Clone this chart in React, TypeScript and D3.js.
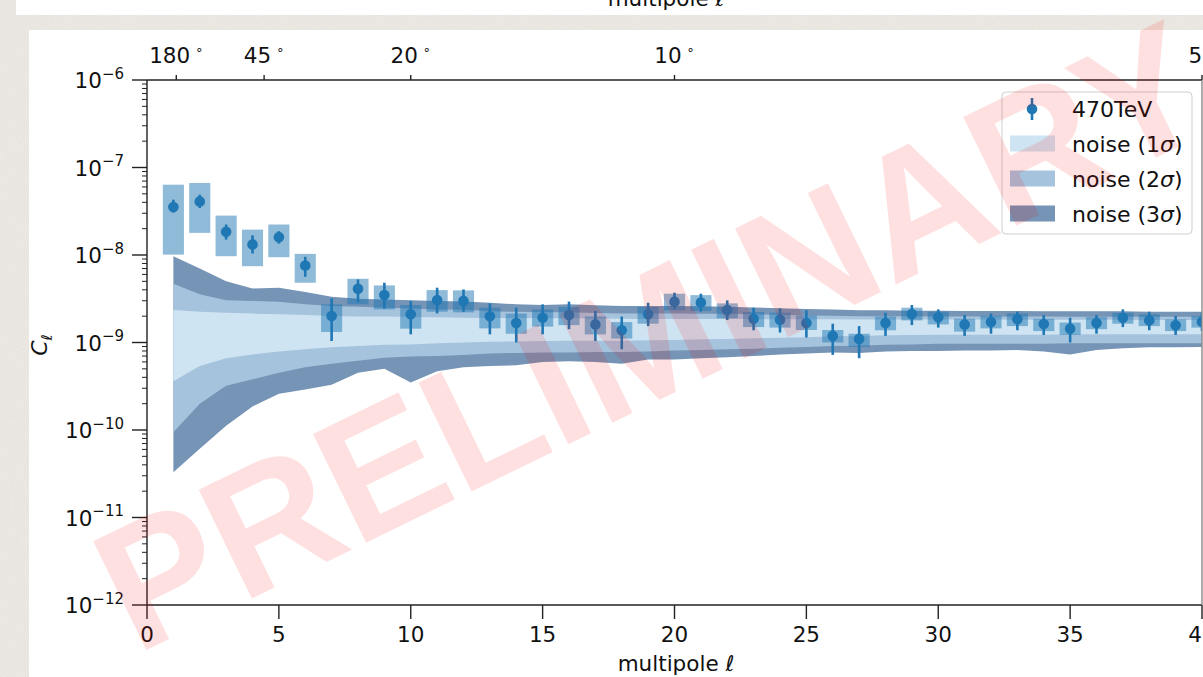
import React from "react";
import * as d3 from "d3";

// Multipole index of every measured C_ell
const multipoles = [
  1, 2, 3, 4, 5, 6, 7, 8, 9, 10, 11, 12, 13, 14, 15, 16, 17, 18, 19, 20,
  21, 22, 23, 24, 25, 26, 27, 28, 29, 30, 31, 32, 33, 34, 35, 36, 37, 38, 39, 40,
];

// Measured angular power spectrum, 470 TeV
const clValues = [
  3.54e-8, 4.1e-8, 1.84e-8, 1.32e-8, 1.6e-8, 7.58e-9, 2.01e-9, 4.12e-9, 3.48e-9, 2.1e-9,
  3.05e-9, 2.99e-9, 1.99e-9, 1.67e-9, 1.92e-9, 2.06e-9, 1.61e-9, 1.38e-9, 2.1e-9, 2.93e-9,
  2.86e-9, 2.35e-9, 1.87e-9, 1.82e-9, 1.67e-9, 1.19e-9, 1.1e-9, 1.67e-9, 2.12e-9, 1.94e-9,
  1.61e-9, 1.71e-9, 1.84e-9, 1.63e-9, 1.44e-9, 1.67e-9, 1.92e-9, 1.79e-9, 1.57e-9, 1.73e-9,
];
// Statistical error bars
const errLo = [
  3.05e-8, 3.45e-8, 1.5e-8, 1.04e-8, 1.35e-8, 5.64e-9, 1.04e-9, 2.88e-9, 2.44e-9, 1.24e-9,
  2.15e-9, 2.25e-9, 1.24e-9, 1.0e-9, 1.24e-9, 1.42e-9, 1.04e-9, 8.38e-10, 1.54e-9, 2.39e-9,
  2.25e-9, 1.81e-9, 1.38e-9, 1.3e-9, 1.14e-9, 7.22e-10, 6.61e-10, 1.19e-9, 1.58e-9, 1.48e-9,
  1.19e-9, 1.26e-9, 1.38e-9, 1.22e-9, 1.0e-9, 1.26e-9, 1.5e-9, 1.38e-9, 1.22e-9, 1.35e-9,
];
const errHi = [
  4.29e-8, 4.89e-8, 2.23e-8, 1.68e-8, 1.87e-8, 9.54e-9, 3.19e-9, 5.26e-9, 4.82e-9, 2.98e-9,
  4.23e-9, 4.04e-9, 2.8e-9, 2.5e-9, 2.73e-9, 2.93e-9, 2.29e-9, 1.98e-9, 2.85e-9, 3.71e-9,
  3.61e-9, 3.03e-9, 2.5e-9, 2.46e-9, 2.33e-9, 1.64e-9, 1.54e-9, 2.19e-9, 2.68e-9, 2.39e-9,
  2.06e-9, 2.14e-9, 2.25e-9, 2.06e-9, 1.92e-9, 2.06e-9, 2.39e-9, 2.25e-9, 2.01e-9, 2.19e-9,
];
// Systematic uncertainty boxes
const boxLo = [
  1.01e-8, 1.79e-8, 9.69e-9, 7.45e-9, 9.44e-9, 4.82e-9, 1.32e-9, 2.73e-9, 2.39e-9, 1.44e-9,
  2.25e-9, 2.21e-9, 1.45e-9, 1.26e-9, 1.52e-9, 1.58e-9, 1.24e-9, 1.11e-9, 1.64e-9, 2.33e-9,
  2.29e-9, 1.89e-9, 1.5e-9, 1.48e-9, 1.39e-9, 1.0e-9, 8.9e-10, 1.38e-9, 1.79e-9, 1.61e-9,
  1.33e-9, 1.45e-9, 1.54e-9, 1.35e-9, 1.22e-9, 1.42e-9, 1.64e-9, 1.54e-9, 1.35e-9, 1.48e-9,
];
const boxHi = [
  6.36e-8, 6.65e-8, 2.82e-8, 1.95e-8, 2.23e-8, 1.03e-8, 2.73e-9, 5.35e-9, 4.49e-9, 2.68e-9,
  3.97e-9, 3.94e-9, 2.5e-9, 2.14e-9, 2.39e-9, 2.54e-9, 1.98e-9, 1.71e-9, 2.54e-9, 3.61e-9,
  3.48e-9, 2.8e-9, 2.23e-9, 2.19e-9, 2.04e-9, 1.39e-9, 1.26e-9, 1.98e-9, 2.5e-9, 2.25e-9,
  1.87e-9, 2.01e-9, 2.15e-9, 1.87e-9, 1.69e-9, 1.95e-9, 2.19e-9, 2.1e-9, 1.84e-9, 2.01e-9,
];

// Isotropic-noise bands
const sig3Hi = [
  9.7e-9, 7.0e-9, 5.0e-9, 4.15e-9, 4.23e-9, 3.77e-9, 3.34e-9, 3.17e-9, 3.11e-9, 3.03e-9,
  2.98e-9, 2.95e-9, 2.84e-9, 2.73e-9, 2.69e-9, 2.73e-9, 2.66e-9, 2.62e-9, 2.61e-9, 2.62e-9,
  2.59e-9, 2.57e-9, 2.52e-9, 2.46e-9, 2.42e-9, 2.39e-9, 2.33e-9, 2.33e-9, 2.31e-9, 2.3e-9,
  2.29e-9, 2.29e-9, 2.29e-9, 2.27e-9, 2.27e-9, 2.27e-9, 2.27e-9, 2.25e-9, 2.25e-9, 2.25e-9,
];
const sig2Hi = [
  4.7e-9, 3.55e-9, 3.03e-9, 2.98e-9, 2.93e-9, 2.73e-9, 2.61e-9, 2.57e-9, 2.5e-9, 2.44e-9,
  2.39e-9, 2.37e-9, 2.27e-9, 2.24e-9, 2.21e-9, 2.21e-9, 2.18e-9, 2.15e-9, 2.15e-9, 2.15e-9,
  2.13e-9, 2.13e-9, 2.1e-9, 2.07e-9, 2.04e-9, 2.02e-9, 2.0e-9, 1.99e-9, 1.99e-9, 1.98e-9,
  1.98e-9, 1.98e-9, 1.98e-9, 1.98e-9, 1.97e-9, 1.97e-9, 1.97e-9, 1.97e-9, 1.97e-9, 1.97e-9,
];
const sig1Hi = [
  2.35e-9, 2.25e-9, 2.19e-9, 2.14e-9, 2.1e-9, 2.06e-9, 2.01e-9, 1.98e-9, 1.98e-9, 1.95e-9,
  1.94e-9, 1.92e-9, 1.9e-9, 1.9e-9, 1.89e-9, 1.89e-9, 1.88e-9, 1.87e-9, 1.86e-9, 1.86e-9,
  1.86e-9, 1.85e-9, 1.85e-9, 1.84e-9, 1.84e-9, 1.84e-9, 1.83e-9, 1.83e-9, 1.83e-9, 1.83e-9,
  1.83e-9, 1.83e-9, 1.82e-9, 1.82e-9, 1.82e-9, 1.82e-9, 1.82e-9, 1.81e-9, 1.81e-9, 1.81e-9,
];
const sig1Lo = [
  3.6e-10, 5.4e-10, 6.6e-10, 7.3e-10, 7.9e-10, 8.4e-10, 8.8e-10, 9.1e-10, 9.4e-10, 9.5e-10,
  9.8e-10, 1.0e-9, 1.02e-9, 1.03e-9, 1.04e-9, 1.05e-9, 1.05e-9, 1.05e-9, 1.06e-9, 1.07e-9,
  1.09e-9, 1.1e-9, 1.12e-9, 1.13e-9, 1.15e-9, 1.18e-9, 1.19e-9, 1.21e-9, 1.22e-9, 1.23e-9,
  1.23e-9, 1.23e-9, 1.23e-9, 1.23e-9, 1.24e-9, 1.24e-9, 1.24e-9, 1.24e-9, 1.24e-9, 1.24e-9,
];
const sig2Lo = [
  9.4e-11, 2.0e-10, 3.2e-10, 3.8e-10, 4.5e-10, 5.2e-10, 5.7e-10, 6.2e-10, 6.7e-10, 6.9e-10,
  7.0e-10, 7.2e-10, 7.5e-10, 7.6e-10, 7.7e-10, 7.7e-10, 7.8e-10, 7.8e-10, 7.9e-10, 8.1e-10,
  8.2e-10, 8.4e-10, 8.5e-10, 8.7e-10, 8.9e-10, 9.1e-10, 9.2e-10, 9.4e-10, 9.5e-10, 9.7e-10,
  9.7e-10, 9.7e-10, 9.7e-10, 9.7e-10, 9.8e-10, 9.8e-10, 9.8e-10, 9.8e-10, 9.8e-10, 9.8e-10,
];
const sig3Lo = [
  3.3e-11, 6.1e-11, 1.12e-10, 1.86e-10, 2.6e-10, 2.9e-10, 3.3e-10, 4.5e-10, 5.0e-10, 3.5e-10,
  4.7e-10, 5.2e-10, 5.4e-10, 5.5e-10, 6.0e-10, 6.1e-10, 6.0e-10, 5.7e-10, 6.4e-10, 6.4e-10,
  6.6e-10, 6.8e-10, 7.0e-10, 7.3e-10, 7.5e-10, 7.7e-10, 7.6e-10, 7.9e-10, 8.0e-10, 8.0e-10,
  8.1e-10, 8.1e-10, 8.2e-10, 7.9e-10, 7.3e-10, 8.2e-10, 8.6e-10, 8.8e-10, 8.8e-10, 8.9e-10,
];

// Axis ticks
const xTicks = [0, 5, 10, 15, 20, 25, 30, 35, 40];
const yTickExponents = [-6, -7, -8, -9, -10, -11, -12];
const topTickLabels = ["180", "45", "20", "10", "5"];
const topTickMultipoles = [1.11, 4.44, 10, 20, 40];

const FONT = "'DejaVu Sans', sans-serif";
const BLUE = "#1f77b4";
const C1 = "#cfe4f2";
const C2 = "#a6c3dd";
const C3 = "#7594b6";

export default function App() {
  const left = 147;
  const right = 1202;
  const top = 80;
  const bottom = 605;

  const x = d3.scaleLinear().domain([0, 40]).range([left, right]);
  const y = d3.scaleLog().domain([1e-12, 1e-6]).range([bottom, top]);

  const band = (lo: number[], hi: number[]) =>
    d3
      .area<number>()
      .x((l) => x(l))
      .y0((_, i) => y(lo[i]))
      .y1((_, i) => y(hi[i]))(multipoles) || "";

  const minorTicks: number[] = [];
  for (let e = -12; e < -6; e++) {
    for (let k = 2; k <= 9; k++) minorTicks.push(k * Math.pow(10, e));
  }

  const halfBox = 0.4;
  const tickColor = "#222";

  return (
    <svg
      width={1203}
      height={677}
      style={{ position: "fixed", left: 0, top: 0, display: "block" }}
      fontFamily={FONT}
    >
      <defs>
        <filter id="grain" x="0" y="0" width="100%" height="100%">
          <feTurbulence type="fractalNoise" baseFrequency="0.9" numOctaves="2" seed="3" />
          <feColorMatrix type="saturate" values="0" />
        </filter>
        <clipPath id="plotArea">
          <rect x={left} y={top} width={right - left} height={bottom - top} />
        </clipPath>
        <clipPath id="strip">
          <rect x={16} y={0} width={1187} height={15} />
        </clipPath>
      </defs>

      {/* paper background */}
      <rect width={1203} height={677} fill="#ede9e3" />
      <rect width={1203} height={677} filter="url(#grain)" opacity={0.12} />

      {/* strip of the previous figure */}
      <rect x={16} y={0} width={1187} height={15} fill="#fff" />
      <g clipPath="url(#strip)">
        <text x={666} y={6} fontSize={21.5} textAnchor="middle" fill="#111">
          multipole <tspan fontStyle="italic">ℓ</tspan>
        </text>
      </g>

      {/* figure panel */}
      <rect x={29} y={30} width={1174} height={647} fill="#fff" />

      {/* bands, boxes and points */}
      <g clipPath="url(#plotArea)">
        <path d={band(sig3Lo, sig3Hi)} fill={C3} />
        <path d={band(sig2Lo, sig2Hi)} fill={C2} />
        <path d={band(sig1Lo, sig1Hi)} fill={C1} />
        {multipoles.map((l, i) => (
          <rect
            key={"b" + l}
            x={x(l - halfBox)}
            y={y(boxHi[i])}
            width={x(l + halfBox) - x(l - halfBox)}
            height={y(boxLo[i]) - y(boxHi[i])}
            fill={BLUE}
            fillOpacity={0.5}
          />
        ))}
        {multipoles.map((l, i) => (
          <g key={"p" + l}>
            <line x1={x(l)} x2={x(l)} y1={y(errLo[i])} y2={y(errHi[i])} stroke={BLUE} strokeWidth={2.6} />
            <circle cx={x(l)} cy={y(clValues[i])} r={5.3} fill={BLUE} />
          </g>
        ))}
      </g>

      {/* spines */}
      <g stroke={tickColor} strokeWidth={1.4} fill="none">
        <line x1={left} x2={right} y1={top} y2={top} />
        <line x1={left} x2={right} y1={bottom} y2={bottom} />
        <line x1={left} x2={left} y1={top} y2={bottom} />
        <line x1={right} x2={right} y1={top} y2={bottom} stroke="#888" />
      </g>

      {/* y axis */}
      {minorTicks.map((v, i) => (
        <line key={"m" + i} x1={left - 5} x2={left} y1={y(v)} y2={y(v)} stroke={tickColor} strokeWidth={1} />
      ))}
      {yTickExponents.map((e) => {
        const yy = y(Math.pow(10, e));
        return (
          <g key={"y" + e}>
            <line x1={left - 15} x2={left} y1={yy} y2={yy} stroke={tickColor} strokeWidth={1.4} />
            <text x={124} y={yy + 8} fontSize={21.5} textAnchor="end" fill="#111">
              10
              <tspan dy={-9.5} fontSize={15}>
                {"\u2212" + Math.abs(e)}
              </tspan>
            </text>
          </g>
        );
      })}
      <text transform="translate(47,345) rotate(-90)" fontSize={22} textAnchor="middle" fill="#111">
        <tspan fontStyle="italic">C</tspan>
        <tspan dy={5} fontSize={15} fontStyle="italic">
          ℓ
        </tspan>
      </text>

      {/* bottom axis */}
      {xTicks.map((t) => (
        <g key={"x" + t}>
          <line x1={x(t)} x2={x(t)} y1={bottom} y2={bottom + 14} stroke={tickColor} strokeWidth={1.4} />
          <text x={x(t)} y={642} fontSize={21.5} textAnchor="middle" fill="#111">
            {t}
          </text>
        </g>
      ))}
      <text x={676} y={671} fontSize={21.5} textAnchor="middle" fill="#111">
        multipole <tspan fontStyle="italic">ℓ</tspan>
      </text>

      {/* top axis: angular scale */}
      {topTickMultipoles.map((l, i) => (
        <g key={"t" + i}>
          <line x1={x(l)} x2={x(l)} y1={top - 5} y2={top} stroke={tickColor} strokeWidth={1.4} />
          <text x={x(l)} y={63} fontSize={21.5} textAnchor="middle" fill="#111">
            {topTickLabels[i]}
            <tspan dx={5} dy={-9} fontSize={13}>
              ∘
            </tspan>
          </text>
        </g>
      ))}

      {/* legend */}
      <g>
        <rect x={1002} y={92} width={190} height={142} rx={4} fill="#fff" fillOpacity={0.8} stroke="#cfcfcf" />
        <line x1={1032} x2={1032} y1={98} y2={120} stroke={BLUE} strokeWidth={2.6} />
        <circle cx={1032} cy={109} r={5.3} fill={BLUE} />
        <text x={1072} y={117} fontSize={22} fill="#111">
          470TeV
        </text>
        {[
          { c: C1, s: "1", cy: 143.5 },
          { c: C2, s: "2", cy: 178.5 },
          { c: C3, s: "3", cy: 213.5 },
        ].map((d) => (
          <g key={d.s}>
            <rect x={1010} y={d.cy - 8} width={45} height={16} fill={d.c} />
            <text x={1072} y={d.cy + 8} fontSize={22} fill="#111">
              noise ({d.s}
              <tspan fontStyle="italic">σ</tspan>)
            </text>
          </g>
        ))}
      </g>

      {/* watermark */}
      <text
        transform="translate(650,334) rotate(-26)"
        fontFamily="'Liberation Sans', Arial, sans-serif"
        fontWeight="bold"
        fontSize={176}
        textAnchor="middle"
        dy="0.36em"
        fill="rgb(255,0,0)"
        fillOpacity={0.12}
      >
        PRELIMINARY
      </text>
    </svg>
  );
}
